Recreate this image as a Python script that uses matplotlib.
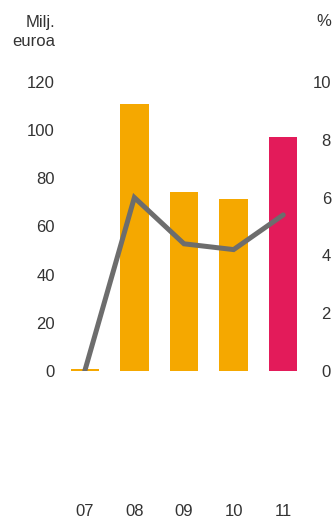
import matplotlib
matplotlib.use("Agg")
from matplotlib import pyplot as plt

# data
years = ["07", "08", "09", "10", "11"]
bar_values = [1, 111, 74.5, 71.5, 97]
line_values = [0, 6.0, 4.4, 4.2, 5.4]
bar_colors = ["#F5A800", "#F5A800", "#F5A800", "#F5A800", "#E31B5A"]
left_ticks = [0, 20, 40, 60, 80, 100, 120]
right_ticks = [0, 2, 4, 6, 8, 10]

plt.rcParams['font.family'] = ['Liberation Sans', 'DejaVu Sans']
text_color = "#333333"
fs = 12

fig = plt.figure(figsize=(3.33, 5.2), dpi=100)
ax = fig.add_axes([0.180, 0.2865, 0.745, 0.556])
ax2 = ax.twinx()

x = list(range(len(years)))
ax.bar(x, bar_values, width=0.57, color=bar_colors, zorder=2)
ax2.plot(x, line_values, color="#6d6d6d", linewidth=3.6,
         solid_capstyle="round", solid_joinstyle="miter", zorder=3)

ax.set_xlim(-0.5, 4.5)
ax.set_ylim(0, 120)
ax2.set_ylim(0, 10)
ax.set_xticks(x)
ax.set_xticklabels(years)
ax.set_yticks(left_ticks)
ax2.set_yticks(right_ticks)

for a in (ax, ax2):
    for s in a.spines.values():
        s.set_visible(False)
    a.tick_params(length=0, labelsize=fs, labelcolor=text_color)
ax.tick_params(axis="y", pad=3.6)
ax.tick_params(axis="x", pad=96)
ax2.tick_params(axis="y", pad=16.5)
for lbl in ax2.get_yticklabels():
    lbl.set_horizontalalignment("right")

fig.text(55 / 333, 1 - 32 / 520, "Milj.\neuroa", ha="right", va="center",
         fontsize=fs, color=text_color, linespacing=1.35)
fig.text(331 / 333, 1 - 22 / 520, "%", ha="right", va="center",
         fontsize=fs, color=text_color)

fig.savefig("out.png", dpi=100)
